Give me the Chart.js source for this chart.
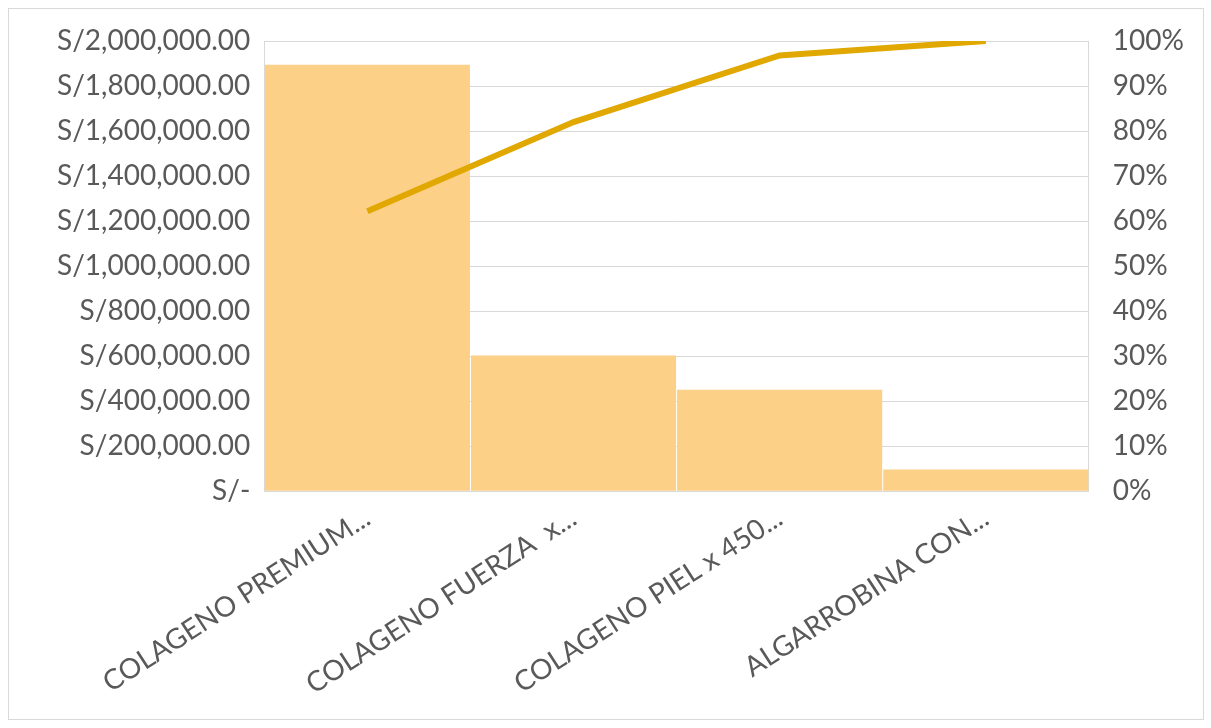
<!DOCTYPE html>
<html>
<head>
<meta charset="utf-8">
<script src="https://cdn.jsdelivr.net/npm/chart.js@4"></script>
<style>
  html, body { margin: 0; padding: 0; background: #fff; }
  .frame {
    position: absolute; left: 8px; top: 8px; width: 1196px; height: 712px;
    border: 1px solid #d9d9d9; box-sizing: border-box;
  }
  .wrap { position: absolute; left: 0; top: 0; width: 1211px; height: 728px; }
</style>
</head>
<body>
<div class="frame"></div>
<div class="wrap"><canvas id="pareto"></canvas></div>
<script>
// Products (labels as shown, truncated)
const productos = ['COLAGENO PREMIUM...', 'COLAGENO FUERZA  x...', 'COLAGENO PIEL x 450...', 'ALGARROBINA CON...'];
// Sales in soles
const ventas = [1895000, 603000, 451000, 96000];
// Cumulative share, percent
const acumulado = [62.2, 82.0, 96.8, 100];

function soles(v) {
    if (v === 0) return 'S/-';
    return 'S/' + v.toLocaleString('en-US', { minimumFractionDigits: 2, maximumFractionDigits: 2 });
}

const tickFont = { family: 'Lato, "Open Sans", sans-serif', size: 28 };
const gray = '#595959';
const grid = '#d9d9d9';

new Chart(document.getElementById('pareto'), {
    data: {
        labels: productos,
        datasets: [
            {
                type: 'line',
                data: acumulado,
                yAxisID: 'pct',
                borderColor: '#E0A800',
                borderWidth: 6,
                pointRadius: 0,
                tension: 0,
                order: 0
            },
            {
                type: 'bar',
                data: ventas,
                yAxisID: 'monto',
                backgroundColor: '#FCD086',
                barPercentage: 0.995,
                categoryPercentage: 1,
                order: 1
            }
        ]
    },
    options: {
        responsive: true,
        maintainAspectRatio: false,
        animation: false,
        layout: { padding: { left: 43, right: 11, top: 41, bottom: 25 } },
        plugins: { legend: { display: false }, tooltip: { enabled: false } },
        scales: {
            x: {
                grid: { display: false },
                border: { color: grid },
                ticks: { color: gray, font: tickFont, minRotation: 33, maxRotation: 33, padding: 2 }
            },
            monto: {
                position: 'left',
                min: 0, max: 2000000,
                border: { color: grid },
                grid: { color: grid, drawTicks: false },
                ticks: { stepSize: 200000, color: gray, font: tickFont, padding: 14, callback: soles }
            },
            pct: {
                position: 'right',
                min: 0, max: 100,
                border: { color: grid },
                grid: { display: false },
                ticks: { stepSize: 10, color: gray, font: tickFont, padding: 16, callback: v => v + '%' }
            }
        }
    }
});
</script>
</body>
</html>
